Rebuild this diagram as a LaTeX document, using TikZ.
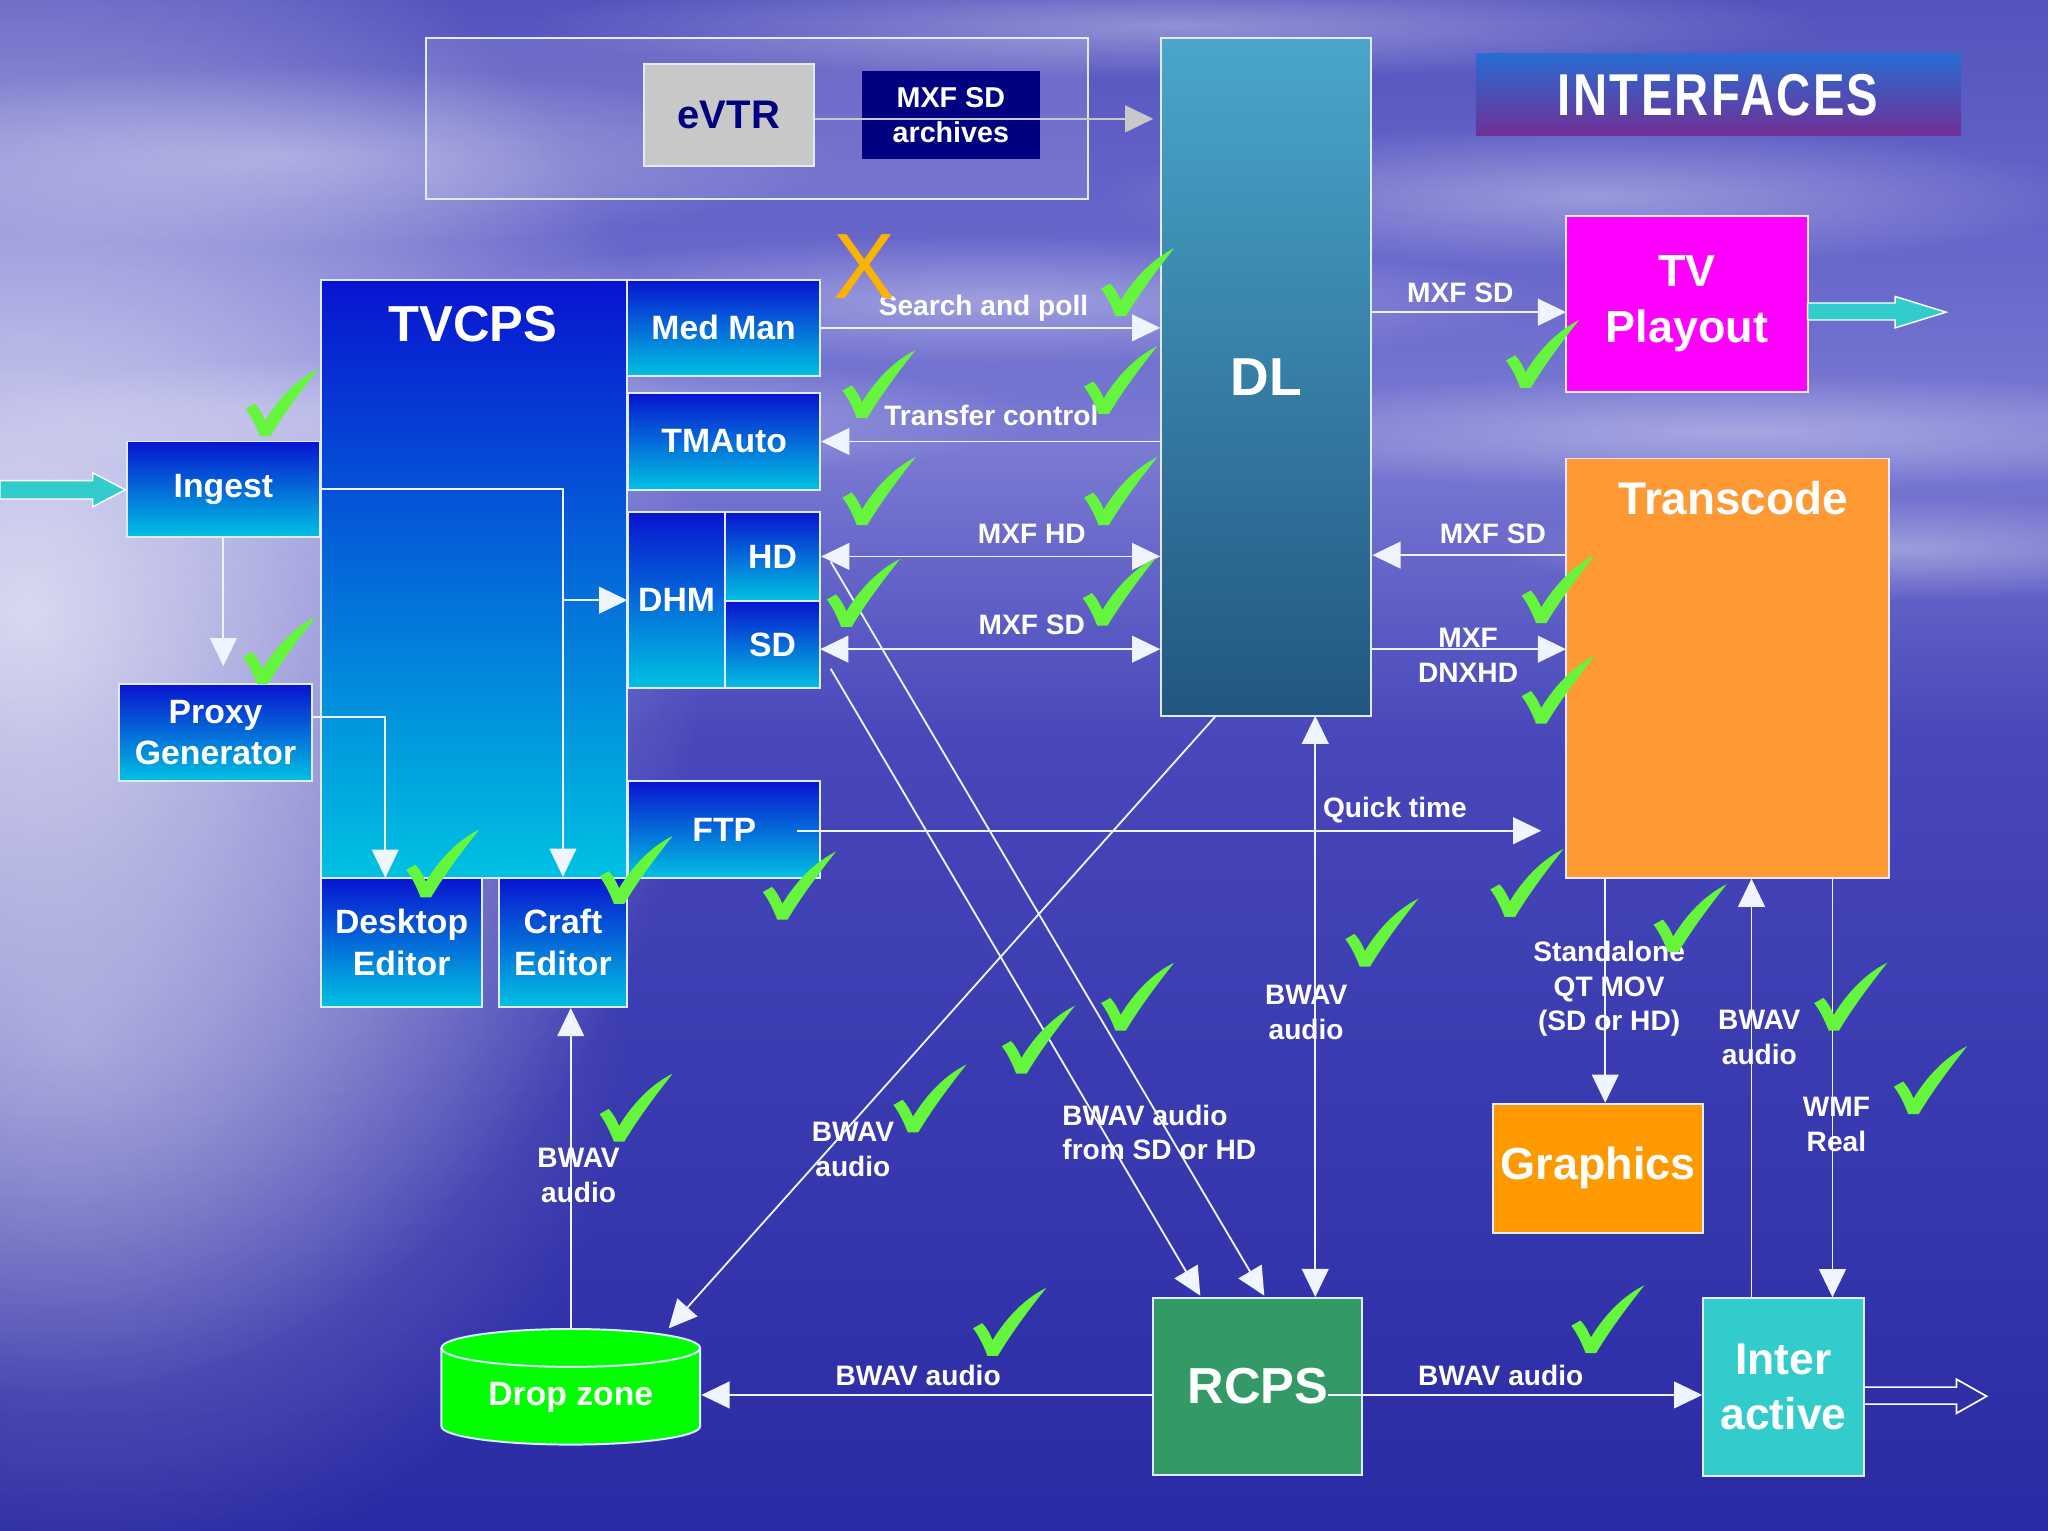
\documentclass[tikz,border=0pt]{standalone}
\usepackage{fontspec}
\setmainfont{Liberation Sans}
\newfontfamily\ifcfont[FakeStretch=0.8,LetterSpace=4]{Liberation Sans}
\usetikzlibrary{arrows.meta,calc,fadings}
\definecolor{sk1}{RGB}{84,84,190}
\definecolor{sk2}{RGB}{104,104,204}
\definecolor{sk3}{RGB}{122,122,211}
\definecolor{oc2}{RGB}{72,72,187}
\definecolor{oc3}{RGB}{42,42,164}
\definecolor{bxtop}{RGB}{8,20,208}
\definecolor{bxbot}{RGB}{0,194,226}
\definecolor{bxline}{RGB}{225,235,255}
\definecolor{dltop}{RGB}{74,166,202}
\definecolor{dlbot}{RGB}{34,86,128}
\definecolor{magbx}{RGB}{255,0,255}
\definecolor{orbx}{RGB}{255,153,51}
\definecolor{gfxbx}{RGB}{255,153,0}
\definecolor{rcpsbx}{RGB}{51,153,102}
\definecolor{tealbx}{RGB}{51,204,204}
\definecolor{dropg}{RGB}{0,255,0}
\definecolor{chkg}{RGB}{100,245,60}
\definecolor{xorange}{RGB}{250,180,0}
\definecolor{navybx}{RGB}{0,0,128}
\definecolor{evtrgray}{RGB}{200,200,200}
\definecolor{iftop}{RGB}{40,108,212}
\definecolor{ifbot}{RGB}{112,48,148}
\definecolor{lnw}{RGB}{240,244,255}
\tikzfading[name=softglow, inner color=transparent!0, outer color=transparent!100]
\def\U{0.4645pt}
\begin{document}
\begin{tikzpicture}[x=0.016327cm, y=-0.016327cm,
 sz/.style 2 args={minimum width=#1*\U, minimum height=#2*\U},
 box/.style={draw=bxline, line width=0.7pt, inner sep=0pt, text=white, align=center, font=\bfseries\fontsize{12}{14.6}\selectfont},
 bluebox/.style={box, top color=bxtop, bottom color=bxbot},
 lbl/.style={text=white, font=\bfseries\fontsize{10}{12.4}\selectfont, align=center, inner sep=0pt},
 con/.style={draw=lnw, line width=0.65pt},
 arr/.style={con, -{Triangle[length=10pt,width=9.5pt]}},
 darr/.style={con, {Triangle[length=10pt,width=9.5pt]}-{Triangle[length=10pt,width=9.5pt]}},
 chk/.pic={\fill[chkg] (0,31) -- (7,27) .. controls (10,30) and (13,35) .. (15,40) .. controls (26,22) and (40,8) .. (56,0) .. controls (45,14) and (31,32) .. (19,52) -- (11,52) .. controls (8,44) and (4,36) .. (0,31) -- cycle;}
]
\useasboundingbox (0,0) rectangle (1568,1172);
% background
\shade[top color=sk1, bottom color=sk2] (0,0) rectangle (1568,200.5);
\shade[top color=sk2, bottom color=sk3] (0,200) rectangle (1568,345.5);
\shade[top color=sk3, bottom color=oc2] (0,345) rectangle (1568,560.5);
\shade[top color=oc2, bottom color=oc3] (0,560) rectangle (1568,1172);
\foreach \cx/\cy/\rx/\ry in {220/120/420/70, 760/230/420/50, 1330/330/460/45, 380/320/420/50, 1220/150/380/55, 900/20/500/40, 1450/420/300/40}
  \fill[white, opacity=0.35, path fading=softglow] (\cx,\cy) ellipse [x radius=\rx, y radius=\ry];
\fill[white, opacity=0.75, path fading=softglow] (20,470) ellipse [x radius=520, y radius=600];
\fill[white, opacity=0.35, path fading=softglow] (60,800) ellipse [x radius=420, y radius=420];

% eVTR group
\draw[draw=bxline, line width=0.7pt, fill=white, fill opacity=0.12] (326,29) rectangle (833,152);
\node[box, sz={130}{78}, fill=evtrgray, text=navybx, font=\bfseries\fontsize{14.2}{16}\selectfont] (evtr) at (558,88) {eVTR};
\node[box, sz={136}{68}, fill=navybx, draw=none, font=\bfseries\fontsize{10.2}{12.5}\selectfont] (arch) at (728,88) {MXF SD\\archives};
\coordinate (evo) at (883,91);
\draw[con, draw=evtrgray, -{Triangle[length=10pt,width=9.5pt]}] (evtr.east |- evo) -- (evo);

% DL
\node[box, sz={161}{519}, top color=dltop, bottom color=dlbot, font=\bfseries\fontsize{19}{22}\selectfont] (dl) at (969.5,288.5) {DL};

% INTERFACES
\node[sz={371}{63}, inner sep=0pt, top color=iftop, bottom color=ifbot, text=white, font=\ifcfont\bfseries\fontsize{21}{24}\selectfont] (ifc) at (1315.5,72.5) {INTERFACES};

% TVCPS group
\node[bluebox, sz={234}{458}] (tvcps) at (363,443) {};
\node[text=white, font=\bfseries\fontsize{18}{20}\selectfont, inner sep=0pt] (tvcpsl) at (362,248) {TVCPS};
\node[bluebox, sz={148}{74}] (medman) at (554,251) {Med Man};
\node[bluebox, sz={147}{74}] (tmauto) at (554.5,338) {TMAuto};
\node[bluebox, sz={74}{135}] (dhm) at (518,459.5) {DHM};
\node[bluebox, sz={73}{68}] (hd) at (591.5,426) {HD};
\node[bluebox, sz={73}{67}] (sd) at (591.5,493.5) {SD};
\node[bluebox, sz={147}{74}] (ftp) at (554.5,635) {FTP};
\node[bluebox, sz={148}{73}] (ingest) at (171,374.5) {Ingest};
\node[bluebox, sz={148}{74}] (proxy) at (165,561) {Proxy\\Generator};
\node[bluebox, sz={123}{99}, font=\bfseries\fontsize{12}{15}\selectfont] (desk) at (307.5,721.5) {Desktop\\Editor};
\node[bluebox, sz={98}{99}, font=\bfseries\fontsize{12}{15}\selectfont] (craft) at (431,721.5) {Craft\\Editor};

% right side boxes
\node[box, sz={185}{135}, fill=magbx, font=\bfseries\fontsize{16}{20}\selectfont] (tv) at (1291.5,232.5) {TV\\Playout};
\node[box, sz={247}{321}, fill=orbx] (tc) at (1322.5,511.5) {};
\node[text=white, font=\bfseries\fontsize{16.3}{18}\selectfont, inner sep=0pt] (tcl) at (1327,381) {Transcode};
\node[box, sz={161}{99}, fill=gfxbx, font=\bfseries\fontsize{16}{18}\selectfont] (gfx) at (1223.5,894.5) {Graphics};
\node[box, sz={160}{135}, fill=rcpsbx, font=\bfseries\fontsize{18}{20}\selectfont] (rcps) at (963,1061.5) {RCPS};
\node[box, sz={123}{136}, fill=tealbx, font=\bfseries\fontsize{15.8}{19.5}\selectfont] (inter) at (1365.5,1062) {Inter\\active};

% drop zone cylinder
\fill[dropg] (338,1032) -- (338,1092) arc[start angle=180, end angle=0, x radius=99, y radius=14] -- (536,1032) arc[start angle=0, end angle=-180, x radius=99, y radius=14.5] -- cycle;
\draw[bxline, line width=0.7pt] (338,1032) -- (338,1092) arc[start angle=180, end angle=0, x radius=99, y radius=14] -- (536,1032);
\draw[bxline, line width=0.7pt] (437,1032) ellipse [x radius=99, y radius=14.5];
\node[text=white, font=\bfseries\fontsize{12}{14}\selectfont, inner sep=0pt] (dz) at (437,1070) {Drop zone};

% block arrows
\draw[draw=white, line width=0.5pt, fill=tealbx] (0,368) -- (71,368) -- (71,362) -- (96,375) -- (71,388) -- (71,382) -- (0,382) -- cycle;
\draw[draw=white, line width=0.5pt, fill=tealbx] (1384,232) -- (1451,232) -- (1451,227) -- (1490,239) -- (1451,251) -- (1451,245) -- (1384,245) -- cycle;
\draw[draw=white, line width=0.6pt] (1428,1062) -- (1498,1062) -- (1498,1056) -- (1521,1069) -- (1498,1082) -- (1498,1075) -- (1428,1075);

% connectors
\draw[arr] (medman.east) -- (medman.east -| dl.west);
\draw[arr] (tmauto.east -| dl.west) -- (tmauto.east);
\draw[darr] (hd.east) -- (hd.east -| dl.west);
\coordinate (sdy) at (628,497);
\draw[darr] (sdy) -- (sdy -| dl.west);
\coordinate (tvin) at (1199,239);
\draw[arr] (tvin -| dl.east) -- (tvin);
\coordinate (tcA) at (1199,425);
\draw[arr] (tcA) -- (tcA -| dl.east);
\coordinate (tcB) at (1199,497);
\draw[arr] (tcB -| dl.east) -- (tcB);
\coordinate (qtS) at (610,636);
\coordinate (qtE) at (1180,636);
\draw[arr] (qtS) -- (qtE);
\draw[arr] (ingest.east) -| (craft.north);
\coordinate (br) at (craft.north |- dhm.west);
\draw[arr] (br) -- (dhm.west);
\coordinate (prxin) at (171,510);
\draw[arr] (ingest.south) -- (prxin);
\coordinate (pxo) at (239,549);
\coordinate (dskin) at (295,672);
\draw[arr] (pxo) -| (dskin);
\coordinate (dztop) at (437,1018);
\draw[arr] (dztop) -- (dztop |- craft.south);
\coordinate (dlbl) at (931,548);
\coordinate (dzin) at (512,1017);
\draw[arr] (dlbl) -- (dzin);
\coordinate (hdo) at (636,430);
\coordinate (rcA) at (968,992);
\draw[arr] (hdo) -- (rcA);
\coordinate (sdo) at (636,512);
\coordinate (rcB) at (919,992);
\draw[arr] (sdo) -- (rcB);
\coordinate (dlr) at (1007,548);
\coordinate (rcC) at (1007,993);
\draw[darr] (dlr) -- (rcC);
\coordinate (rcl) at (883,1068);
\coordinate (dzr) at (537,1068);
\draw[arr] (rcl) -- (dzr);
\coordinate (rcr) at (1017,1068);
\draw[arr] (rcr) -- (rcr -| inter.west);
\coordinate (tg) at (1229,672);
\draw[arr] (tg) -- (tg |- gfx.north);
\coordinate (it) at (1341,994);
\draw[arr] (it) -- (it |- tc.south);
\coordinate (ti) at (1403,672);
\draw[arr] (ti) -- (ti |- inter.north);

% labels
\node[lbl] (lsp) at (753,236) {Search and poll};
\node[lbl] (ltc) at (759,318) {Transfer control};
\node[lbl] (lmh) at (790,409) {MXF HD};
\node[lbl] (lms) at (790,478) {MXF SD};
\node[lbl] (ltv) at (1118,224) {MXF SD};
\node[lbl] (lts) at (1143,409) {MXF SD};
\node[lbl] (ldn) at (1124,502) {MXF\\DNXHD};
\node[lbl] (lqt) at (1068,620) {Quick time};
\node[lbl] (lb1) at (443,900) {BWAV\\audio};
\node[lbl] (lb2) at (653,880) {BWAV\\audio};
\node[lbl, anchor=west, align=left] (lb3) at (813,867) {BWAV audio\\from SD or HD};
\node[lbl] (lb4) at (1000,775) {BWAV\\audio};
\node[lbl] (lqm) at (1232,757) {Standalone\\QT MOV\\(SD or HD)};
\node[lbl] (lb5) at (1347,794) {BWAV\\audio};
\node[lbl] (lwm) at (1406,861) {WMF\\Real};
\node[lbl] (lb6) at (703,1053) {BWAV audio};
\node[lbl] (lb7) at (1149,1053) {BWAV audio};

% orange X
\node[text=xorange, font=\fontsize{33}{33}\selectfont, inner sep=0pt] (xmark) at (662,204) {X};

% check marks
\foreach \px/\py in {843/190, 645/268, 830/265, 645/350, 830/350, 633/428, 829/427, 1153/245, 1165/425, 1165/502, 188/282, 186/472, 311/635, 459/640, 584/652, 1141/650, 1030/688, 843/737, 767/770, 684/815, 459/822, 1266/677, 1389/737, 1450/801, 745/986, 1203/984}
  \pic at (\px,\py) {chk};
\end{tikzpicture}
\end{document}
